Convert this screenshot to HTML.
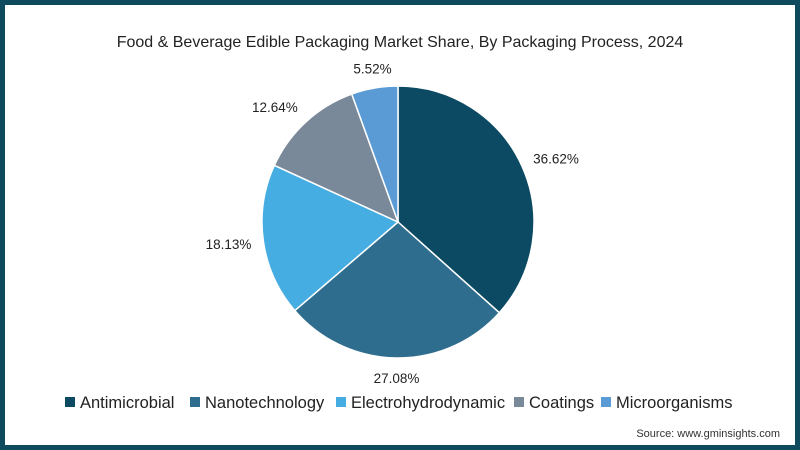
<!DOCTYPE html>
<html><head><meta charset="utf-8"><style>
body{margin:0;width:800px;height:450px;overflow:hidden;background:#fff;font-family:"Liberation Sans",sans-serif}
#frame{position:absolute;left:0;top:0;width:790px;height:440px;border:5px solid #0d4a5e;background:#fff}
</style></head><body>
<div id="frame"></div>
<svg id="c" width="800" height="450" style="position:absolute;left:0;top:0">
<text x="400" y="47" text-anchor="middle" font-size="16" fill="#222">Food &amp; Beverage Edible Packaging Market Share, By Packaging Process, 2024</text>
<text x="780" y="437" text-anchor="end" font-size="11" fill="#333">Source: www.gminsights.com</text>
</svg>
<script>
const categories=["Antimicrobial","Nanotechnology","Electrohydrodynamic","Coatings","Microorganisms"];
const values=[36.62,27.08,18.13,12.64,5.52];
const labels=["36.62%","27.08%","18.13%","12.64%","5.52%"];
const colors=["#0b4a62","#2f6d8f","#46ade2","#7a899a","#5a9bd6"];
const svg=document.getElementById('c'),NS="http://www.w3.org/2000/svg";
const cx=398,cy=222,r=136;
const total=values.reduce((a,b)=>a+b,0);
let acc=0;
function pt(a,rr){return [cx+rr*Math.sin(a),cy-rr*Math.cos(a)];}
values.forEach((v,i)=>{
 const a0=acc/total*2*Math.PI;acc+=v;const a1=acc/total*2*Math.PI;
 const [x0,y0]=pt(a0,r),[x1,y1]=pt(a1,r);
 const p=document.createElementNS(NS,'path');
 p.setAttribute('d',`M${cx},${cy}L${x0},${y0}A${r},${r} 0 ${a1-a0>Math.PI?1:0} 1 ${x1},${y1}Z`);
 p.setAttribute('fill',colors[i]);p.setAttribute('stroke','#fff');p.setAttribute('stroke-width','1.5');
 
 
 svg.appendChild(p);
 const am=(a0+a1)/2,[lx,ly]=pt(am,r+12);const s=Math.sin(am),c=Math.cos(am);
 const t=document.createElementNS(NS,'text');
 t.setAttribute('x',lx);t.setAttribute('y',ly+5-c*8);t.setAttribute('font-size','13.5');t.setAttribute('fill','#222');
 t.setAttribute('text-anchor',s>0.3?'start':(s<-0.3?'end':'middle'));
 t.textContent=labels[i];
 
 
 svg.appendChild(t);
});
const legX=[65,190,336,514,601];
categories.forEach((c,i)=>{
 const g=document.createElementNS(NS,'g');
 
 
 const rc=document.createElementNS(NS,'rect');
 rc.setAttribute('x',legX[i]);rc.setAttribute('y',397);rc.setAttribute('width',10);rc.setAttribute('height',10);rc.setAttribute('fill',colors[i]);
 const t=document.createElementNS(NS,'text');
 t.setAttribute('x',legX[i]+15);t.setAttribute('y',408);t.setAttribute('font-size','16.5');t.setAttribute('fill','#222');
 t.textContent=c;
 g.appendChild(rc);g.appendChild(t);svg.appendChild(g);
});
</script>
</body></html>
